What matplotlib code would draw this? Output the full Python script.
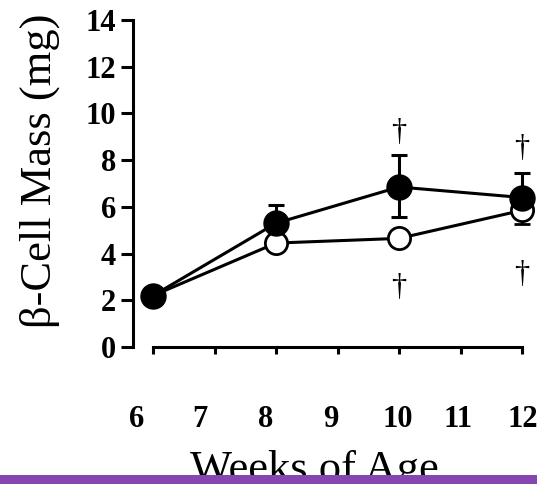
import matplotlib.pyplot as plt
from matplotlib.patches import Rectangle
from matplotlib.transforms import ScaledTranslation

plt.rcParams['font.family'] = ['Liberation Serif', 'DejaVu Serif']

weeks = [6, 8, 10, 12]
closed_mass = [2.2, 5.3, 6.85, 6.4]
closed_err_up = [0, 0.8, 1.35, 1.05]
closed_err_down = [0, 0, 1.3, 0]
open_mass = [2.2, 4.45, 4.65, 5.85]
open_err_up = [0, 0, 0, 0]
open_err_down = [0, 0.2, 0, 0.6]

# significance markers: (week, y)
dagger_pos = [(10, 9.2), (12, 8.5), (10, 2.55), (12, 3.1)]

xticks = [6, 7, 8, 9, 10, 11, 12]
yticks = [0, 2, 4, 6, 8, 10, 12, 14]
# small horizontal nudges (px) of the week labels
xlabel_shift = [-16, -15, -10, -7, -1, -2, 1]

W, H = 537, 484
fig = plt.figure(figsize=(W / 100, H / 100), dpi=100)
ax = fig.add_axes([133 / W, (H - 347) / H, 397 / W, 327 / H])

lw = 2.2
ax.errorbar(weeks, open_mass, yerr=[open_err_down, open_err_up], fmt='o-',
            color='black', mfc='white', mec='black', mew=2, ms=16, lw=lw,
            capsize=6, capthick=lw, elinewidth=lw, clip_on=False, zorder=3)
ax.errorbar(weeks, closed_mass, yerr=[closed_err_down, closed_err_up], fmt='o-',
            color='black', mfc='black', mec='black', ms=18, lw=lw,
            capsize=6, capthick=lw, elinewidth=lw, clip_on=False, zorder=4)

for wk, y in dagger_pos:
    ax.text(wk, y, '\u2020', ha='center', va='center', fontsize=22)

ax.set_xlim(6 - 20 / 61.5, 6 + 377 / 61.5)
ax.set_ylim(0, 14)
ax.set_xticks(xticks)
ax.set_yticks(yticks)

ax.spines['top'].set_visible(False)
ax.spines['right'].set_visible(False)
ax.spines['left'].set_linewidth(2.2)
ax.spines['bottom'].set_linewidth(2.2)
ax.spines['bottom'].set_bounds(6, 12)
ax.tick_params(axis='y', direction='out', length=9, width=2.2, labelsize=22, pad=3)
ax.tick_params(axis='x', direction='out', length=5, width=2.2, labelsize=22, pad=37)
for lbl in ax.get_yticklabels() + ax.get_xticklabels():
    lbl.set_fontweight('bold')
for lbl, dx in zip(ax.get_xticklabels(), xlabel_shift):
    lbl.set_transform(lbl.get_transform() + ScaledTranslation(dx / 100, 0, fig.dpi_scale_trans))

ax.set_ylabel('\u03b2-Cell Mass (mg)', fontsize=32)
ax.yaxis.set_label_coords(-0.185, 0.54)
ax.set_xlabel('Weeks of Age', fontsize=32)
ax.xaxis.set_label_coords(0.458, -0.315)

# purple strip along the bottom edge
fig.patches.append(Rectangle((0, 0), 1, 9 / H, transform=fig.transFigure,
                             facecolor='#8646b0', edgecolor='none', zorder=10))

fig.savefig('out.png', dpi=100)
